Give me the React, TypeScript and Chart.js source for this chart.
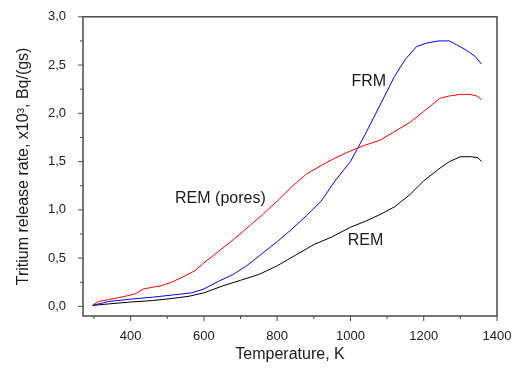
import React, { useEffect, useRef } from 'react';
import { Chart, registerables } from 'chart.js';

Chart.register(...registerables);

// REM (pores) — red
const remPoresT = [296, 312, 340, 380, 413, 435, 458, 480, 512, 540, 576, 600, 640, 680, 720, 760, 800, 840, 880, 920, 960, 1000, 1040, 1080, 1120, 1160, 1200, 1244, 1270, 1300, 1326, 1345, 1358];
const remPoresV = [0.01, 0.05, 0.07, 0.1, 0.13, 0.18, 0.197, 0.21, 0.25, 0.3, 0.37, 0.45, 0.57, 0.69, 0.82, 0.95, 1.09, 1.24, 1.37, 1.46, 1.54, 1.61, 1.67, 1.72, 1.81, 1.9, 2.02, 2.155, 2.18, 2.196, 2.196, 2.18, 2.14];

// FRM — blue
const frmT = [296, 340, 400, 460, 520, 567, 600, 640, 680, 720, 760, 800, 840, 880, 920, 960, 1000, 1040, 1080, 1120, 1150, 1180, 1210, 1240, 1270, 1290, 1320, 1340, 1358];
const frmV = [0.01, 0.05, 0.075, 0.095, 0.12, 0.14, 0.18, 0.26, 0.33, 0.43, 0.55, 0.67, 0.8, 0.94, 1.09, 1.31, 1.5, 1.78, 2.08, 2.38, 2.56, 2.69, 2.73, 2.75, 2.75, 2.71, 2.645, 2.59, 2.51];

// REM — black
const remT = [296, 340, 400, 460, 520, 560, 600, 650, 700, 750, 800, 850, 900, 950, 1000, 1040, 1080, 1120, 1160, 1200, 1240, 1270, 1300, 1330, 1348, 1358];
const remV = [0.01, 0.025, 0.045, 0.06, 0.085, 0.105, 0.14, 0.21, 0.27, 0.33, 0.42, 0.53, 0.64, 0.72, 0.82, 0.88, 0.95, 1.03, 1.15, 1.3, 1.42, 1.5, 1.55, 1.55, 1.54, 1.5];

const xMajorTicks = [400, 600, 800, 1000, 1200, 1400];
const xMinorTicks = [300, 500, 700, 900, 1100, 1300];
const yMajorTicks = [0, 0.5, 1, 1.5, 2, 2.5, 3];
const yMinorTicks = [0.25, 0.75, 1.25, 1.75, 2.25, 2.75];

const labelTexts = ['FRM', 'REM (pores)', 'REM'];
const labelT = [1050, 645, 1041];
const labelV = [2.33, 1.12, 0.68];

const xTitle = 'Temperature, K';
const yTitle = 'Tritium release rate, x10³, Bq/(gs)';

const FONT = '"Liberation Sans", Arial, sans-serif';
const TEXT = '#1a1a1a';
const FRAME = '#4a4a4a';

const toPoints = (xs: number[], ys: number[]) => xs.map((x, i) => ({ x, y: ys[i] }));

const framePlugin = {
  id: 'frameTicks',
  afterDatasetsDraw(chart: any) {
    const { ctx, chartArea: a, scales } = chart;
    ctx.save();
    ctx.strokeStyle = FRAME;
    ctx.lineWidth = 1.5;
    ctx.strokeRect(a.left, a.top, a.right - a.left, a.bottom - a.top);
    ctx.beginPath();
    xMajorTicks.forEach((v) => {
      const p = scales.x.getPixelForValue(v);
      ctx.moveTo(p, a.bottom);
      ctx.lineTo(p, a.bottom + 5);
    });
    xMinorTicks.forEach((v) => {
      const p = scales.x.getPixelForValue(v);
      ctx.moveTo(p, a.bottom);
      ctx.lineTo(p, a.bottom + 3);
    });
    yMajorTicks.forEach((v) => {
      const p = scales.y.getPixelForValue(v);
      ctx.moveTo(a.left, p);
      ctx.lineTo(a.left - 5, p);
    });
    yMinorTicks.forEach((v) => {
      const p = scales.y.getPixelForValue(v);
      ctx.moveTo(a.left, p);
      ctx.lineTo(a.left - 3, p);
    });
    ctx.lineWidth = 1;
    ctx.stroke();

    ctx.fillStyle = TEXT;
    ctx.font = `16px ${FONT}`;
    ctx.textAlign = 'center';
    ctx.textBaseline = 'middle';
    labelTexts.forEach((t, i) => {
      ctx.fillText(t, scales.x.getPixelForValue(labelT[i]), scales.y.getPixelForValue(labelV[i]));
    });
    ctx.restore();
  },
};

export default function App() {
  const ref = useRef<HTMLCanvasElement>(null);
  useEffect(() => {
    if (!ref.current) return;
    const chart = new Chart(ref.current, {
      type: 'line',
      data: {
        datasets: [
          { label: 'REM (pores)', data: toPoints(remPoresT, remPoresV), borderColor: '#ff0000', borderWidth: 1, pointRadius: 0, tension: 0 },
          { label: 'FRM', data: toPoints(frmT, frmV), borderColor: '#0000ff', borderWidth: 1, pointRadius: 0, tension: 0 },
          { label: 'REM', data: toPoints(remT, remV), borderColor: '#000000', borderWidth: 1, pointRadius: 0, tension: 0 },
        ],
      },
      options: {
        animation: false,
        responsive: true,
        maintainAspectRatio: false,
        layout: { padding: { left: 0, right: 21, top: 12, bottom: 0 } },
        plugins: { legend: { display: false }, tooltip: { enabled: false } },
        scales: {
          x: {
            type: 'linear',
            min: 270,
            max: 1400,
            grid: { display: false },
            border: { display: false },
            afterBuildTicks: (s: any) => { s.ticks = xMajorTicks.map((value) => ({ value })); },
            afterFit: (s: any) => { s.height = 55; },
            ticks: {
              color: TEXT,
              font: { family: FONT, size: 13 },
              padding: 5,
              maxRotation: 0,
              autoSkip: false,
              callback: (v: any) => String(v),
            },
            title: { display: true, text: xTitle, color: TEXT, font: { family: FONT, size: 16 }, padding: { top: 0, bottom: 7 } },
          },
          y: {
            type: 'linear',
            min: -0.1,
            max: 3.0,
            grid: { display: false },
            border: { display: false },
            afterBuildTicks: (s: any) => { s.ticks = yMajorTicks.map((value) => ({ value })); },
            afterFit: (s: any) => { s.width = 83; },
            ticks: {
              color: TEXT,
              font: { family: FONT, size: 13 },
              padding: 9,
              autoSkip: false,
              callback: (v: any) => Number(v).toFixed(1).replace('.', ','),
            },
            title: { display: true, text: yTitle, color: TEXT, font: { family: FONT, size: 16 }, padding: { top: 14, bottom: 0 } },
          },
        },
      },
      plugins: [framePlugin],
    });
    return () => chart.destroy();
  }, []);
  return (
    <div style={{ position: 'absolute', left: 0, top: 0, width: 518, height: 371, background: '#fff' }}>
      <canvas ref={ref} />
    </div>
  );
}
